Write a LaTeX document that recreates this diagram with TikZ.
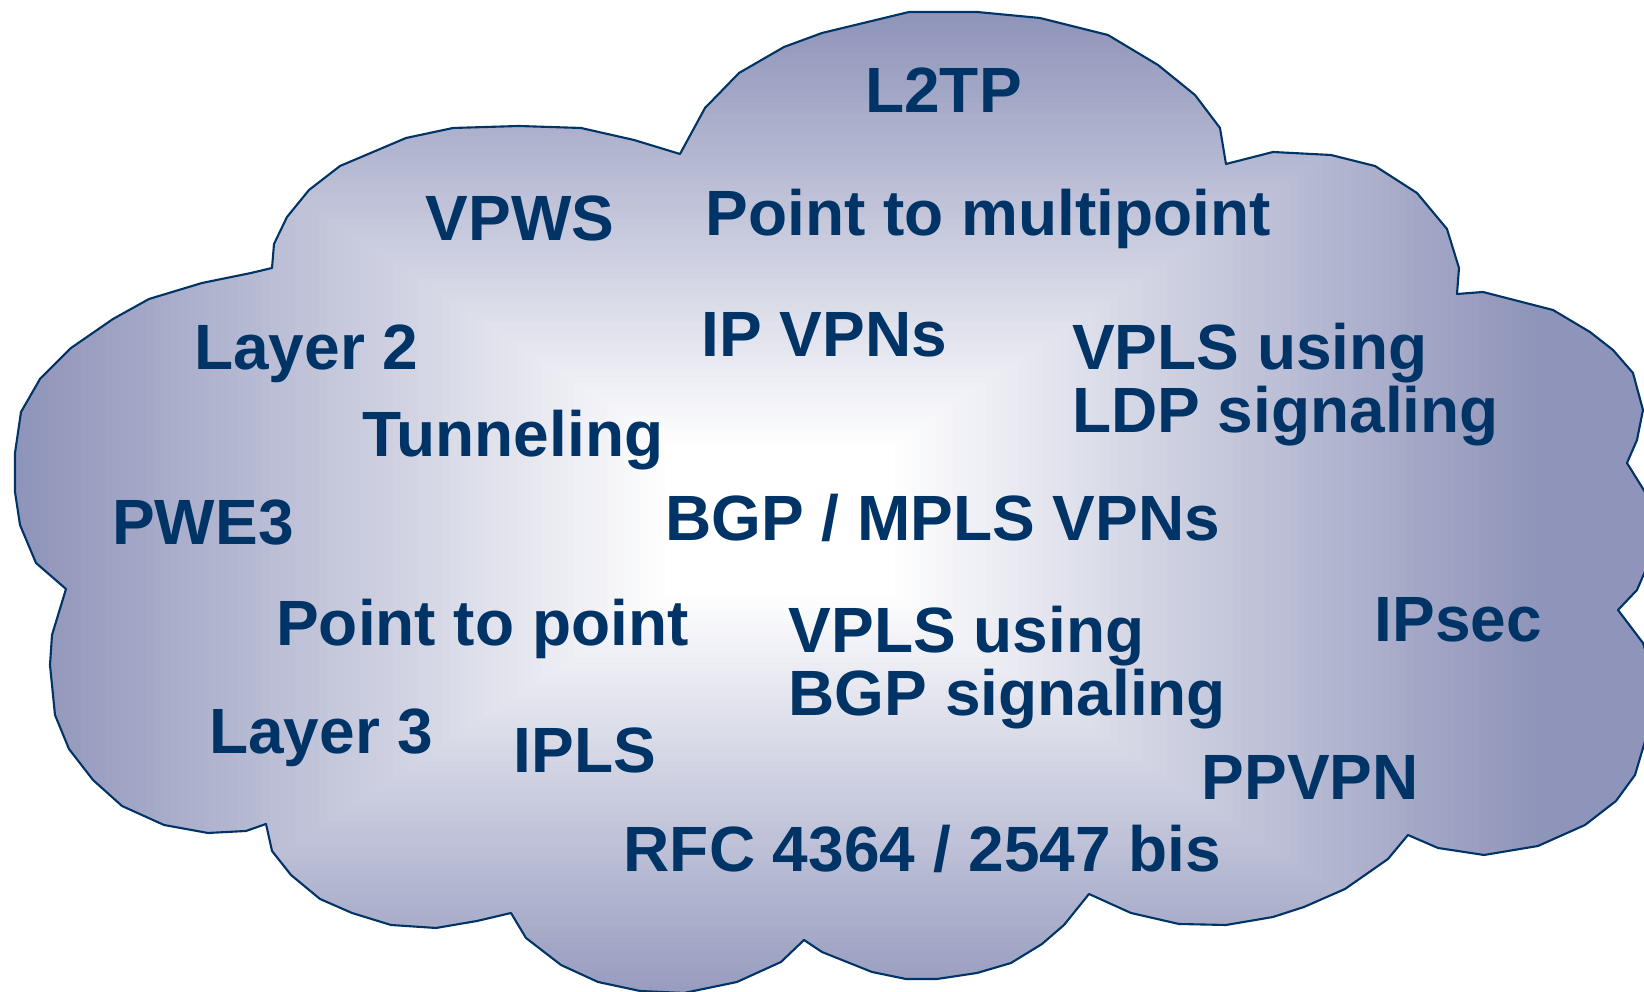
\documentclass[tikz,border=0pt]{standalone}
\usepackage{fontspec}
\setmainfont{Liberation Sans}
\definecolor{navy}{RGB}{0,51,102}
\definecolor{cloudedge}{RGB}{143,148,186}
\tikzset{
  lbl/.style={font=\fontsize{18.2}{16.7}\selectfont\bfseries, text=navy,
    inner sep=0pt, anchor=base west, align=left},
  cloudline/.style={draw=navy, line width=0.6pt, line join=round}
}
% outline of the cloud, in pixel units
\def\cloudpath{(680,154) -- (634,140) -- (581,128) -- (519,126) -- (453,128) -- (406,138) -- (340,166) -- (309,190) -- (287,217) -- (274,244) -- (272,268) -- (251,273) -- (202,283) -- (149,299) -- (113,319) -- (71,348) -- (40,379) -- (21,412) -- (15,453) -- (15,492) -- (20,525) -- (36,563) -- (66,589) -- (52,635) -- (50,665) -- (55,715) -- (69,749) -- (93,780) -- (122,806) -- (164,825) -- (208,833) -- (246,831) -- (266,824) -- (272,851) -- (291,875) -- (320,899) -- (352,913) -- (391,925) -- (436,928) -- (477,921) -- (511,913) -- (526,938) -- (561,965) -- (598,982) -- (640,991) -- (684,993) -- (737,982) -- (781,962) -- (804,940) -- (822,952) -- (872,972) -- (906,979) -- (937,979) -- (977,973) -- (1011,963) -- (1042,944) -- (1064,925) -- (1089,894) -- (1131,913) -- (1179,924) -- (1226,925) -- (1273,917) -- (1304,907) -- (1345,889) -- (1388,859) -- (1408,835) -- (1438,848) -- (1484,855) -- (1538,846) -- (1585,825) -- (1616,801) -- (1635,775) -- (1646,738) -- (1652,700) -- (1650,665) -- (1643,643) -- (1618,610) -- (1637,590) -- (1650,560) -- (1654,525) -- (1645,492) -- (1627,463) -- (1637,440) -- (1643,410) -- (1633,373) -- (1613,350) -- (1590,332) -- (1553,310) -- (1483,292) -- (1457,294) -- (1459,268) -- (1447,229) -- (1417,193) -- (1375,166) -- (1331,155) -- (1273,152) -- (1226,164) -- (1220,128) -- (1195,95) -- (1158,65) -- (1108,35) -- (1040,18) -- (977,12) -- (909,12) -- (822,33) -- (784,47) -- (739,73) -- (705,108) -- cycle}
\begin{document}
\begin{tikzpicture}[x=0.01cm, y=-0.01cm]
  \useasboundingbox (0,0) rectangle (1644,992);
  \clip (0,0) rectangle (1644,992);
  % rectangular gradient, light in the middle
  \begin{scope}
    \clip \cloudpath;
    \fill[cloudedge] (-10,-10) rectangle (1700,1010);
    \foreach \i in {0,...,79} {
      \pgfmathsetmacro\s{1-\i/80*(1-0.14)}
      \pgfmathtruncatemacro\p{\i/79*100}
      \fill[white!\p!cloudedge] ({780-765*\s},{520-510*\s}) rectangle ({780+765*\s},{520+510*\s});
    }
  \end{scope}
  \draw[cloudline] \cloudpath;

  \node[lbl] (l2tp)    at (864.5,113) {L2TP};
  \node[lbl] (vpws)    at (425,241) {VPWS};
  \node[lbl] (ptmp)    at (705,235.5) {Point to multipoint};
  \node[lbl] (layer2)  at (193.5,369.5) {Layer 2};
  \node[lbl] (ipvpn)   at (701,356.5) {IP VPNs};
  \node[lbl] (vplsldp) at (1071.5,432.5) {VPLS using\\LDP signaling};
  \node[lbl] (tunnel)  at (361.5,457) {Tunneling};
  \node[lbl] (pwe3)    at (111.5,545) {PWE3};
  \node[lbl] (bgpmpls) at (664.5,541) {BGP / MPLS VPNs};
  \node[lbl] (ptp)     at (275.5,646) {Point to point};
  \node[lbl] (vplsbgp) at (788,715.5) {VPLS using\\BGP signaling};
  \node[lbl] (ipsec)   at (1374,642) {IPsec};
  \node[lbl] (layer3)  at (208.5,753.5) {Layer 3};
  \node[lbl] (ipls)    at (513,773) {IPLS};
  \node[lbl] (ppvpn)   at (1201,800) {PPVPN};
  \node[lbl] (rfc)     at (623,872) {RFC 4364 / 2547 bis};
\end{tikzpicture}
\end{document}
